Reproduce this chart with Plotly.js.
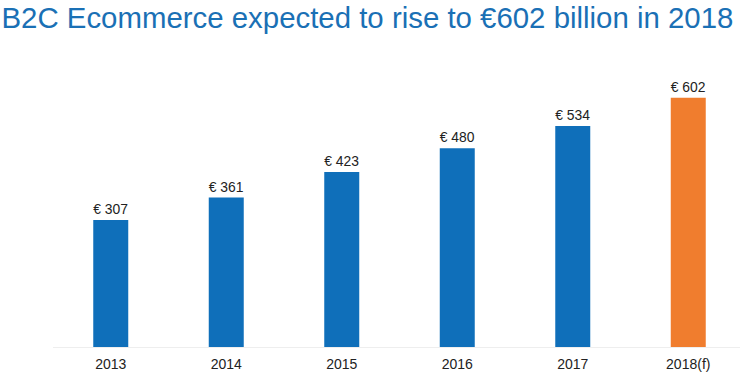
<!DOCTYPE html>
<html>
<head>
<meta charset="utf-8">
<script src="https://cdn.plot.ly/plotly-3.0.1.min.js"></script>
<style>html,body{margin:0;padding:0;background:#fff;}#chart{width:740px;height:378px;}</style>
</head>
<body>
<div id="chart"></div>
<script>
var categories = ["2013", "2014", "2015", "2016", "2017", "2018(f)"];
var values = [307, 361, 423, 480, 534, 602];
var labels = ["€ 307", "€ 361", "€ 423", "€ 480", "€ 534", "€ 602"];
var barColors = ["#0f6fba", "#0f6fba", "#0f6fba", "#0f6fba", "#0f6fba", "#f07d2e"];

var trace = {
  type: "bar",
  x: categories,
  y: values,
  text: labels,
  textposition: "outside",
  cliponaxis: false,
  textfont: {family: "Liberation Sans, Arial, sans-serif", size: 14, color: "#222"},
  marker: {color: barColors},
  hoverinfo: "none"
};

var layout = {
  width: 740,
  height: 378,
  margin: {l: 53, r: 0, t: 78, b: 31},
  paper_bgcolor: "#ffffff",
  plot_bgcolor: "#ffffff",
  showlegend: false,
  bargap: 0.697,
  title: {
    text: "B2C Ecommerce expected to rise to €602 billion in 2018",
    font: {family: "Liberation Sans, Arial, sans-serif", size: 29.4, color: "#1a70b5"},
    xref: "container", yref: "container",
    x: 0.002, xanchor: "left",
    y: 0.953, yanchor: "middle"
  },
  xaxis: {
    type: "category",
    range: [-0.5, 5.448],
    showgrid: false,
    showline: true,
    linecolor: "#eeeeee",
    linewidth: 1,
    ticks: "",
    ticklabelstandoff: 4,
    tickfont: {family: "Liberation Sans, Arial, sans-serif", size: 14, color: "#222"},
    fixedrange: true
  },
  yaxis: {
    range: [0, 650],
    visible: false,
    showgrid: false,
    zeroline: false,
    fixedrange: true
  }
};

Plotly.newPlot("chart", [trace], layout, {displayModeBar: false, staticPlot: true});
</script>
</body>
</html>
